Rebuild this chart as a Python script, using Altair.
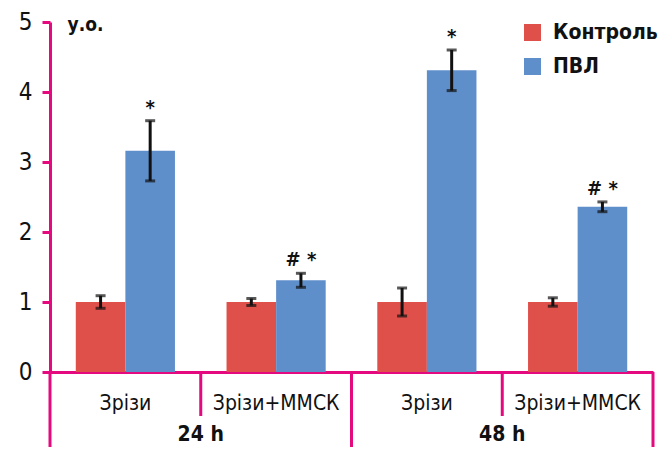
import altair as alt
import pandas as pd

groups = ["24 h", "24 h", "48 h", "48 h"]
treatments = ["Зрізи", "Зрізи+ММСК", "Зрізи", "Зрізи+ММСК"]
series = ["Контроль", "ПВЛ"]
control_mean = [1.0, 1.0, 1.0, 1.0]
control_err = [0.09, 0.05, 0.2, 0.06]
pvl_mean = [3.16, 1.31, 4.31, 2.36]
pvl_err = [0.43, 0.10, 0.29, 0.07]
pvl_marks = ["*", "# *", "*", "# *"]
colors = ["#E0504A", "#5F8FCB"]
y_ticks = [0, 1, 2, 3, 4, 5]

PINK = "#E5097F"
FONT = "Liberation Sans Narrow, DejaVu Sans Condensed, Roboto, sans-serif"

keys = [f"{g}|{t}" for g, t in zip(groups, treatments)]

rows = []
for i, k in enumerate(keys):
    rows.append(dict(key=k, series=series[0], mean=control_mean[i],
                     lo=control_mean[i] - control_err[i], hi=control_mean[i] + control_err[i], note=""))
    rows.append(dict(key=k, series=series[1], mean=pvl_mean[i],
                     lo=pvl_mean[i] - pvl_err[i], hi=pvl_mean[i] + pvl_err[i], note=pvl_marks[i]))
df = pd.DataFrame(rows)

xscale = alt.Scale(domain=keys, paddingInner=0, paddingOuter=0)
oscale = alt.Scale(domain=series, paddingInner=0, paddingOuter=0.52)
yscale = alt.Scale(domain=[0, 5], nice=False)

base = alt.Chart(df)

bars = base.mark_bar().encode(
    x=alt.X("key:N", scale=xscale, title=None,
            axis=alt.Axis(domainColor=PINK, domainWidth=3, ticks=False, labelAngle=0,
                          labelExpr="split(datum.label, '|')[1]", labelFont=FONT,
                          labelFontSize=21, labelColor="#111", labelPadding=20)),
    xOffset=alt.XOffset("series:N", scale=oscale),
    y=alt.Y("mean:Q", scale=yscale,
            axis=alt.Axis(values=y_ticks, format="d", grid=False, domainColor=PINK, domainWidth=3,
                          tickColor=PINK, tickWidth=3, tickSize=8, labelFont=FONT,
                          labelFontSize=24, labelColor="#111", labelPadding=10,
                          title="у.о.", titleAngle=0, titleAlign="left", titleBaseline="middle",
                          titleX=17, titleY=2, titleFont=FONT, titleFontSize=19,
                          titleFontWeight="bold", titleColor="#111")),
    color=alt.Color("series:N", scale=alt.Scale(domain=series, range=colors),
                    legend=alt.Legend(orient="none", legendX=472, legendY=0, title=None,
                                      symbolType="square", symbolSize=289, symbolStrokeWidth=0,
                                      labelFont=FONT, labelFontSize=21, labelFontWeight="bold",
                                      labelColor="#111", rowPadding=12, labelOffset=10)),
)

err = base.mark_rule(color="#111", strokeWidth=3).encode(
    x=alt.X("key:N", scale=xscale),
    xOffset=alt.XOffset("series:N", scale=oscale),
    y=alt.Y("lo:Q", scale=yscale),
    y2="hi:Q",
)

cap_hi = base.mark_tick(color="#111", thickness=3, size=10).encode(
    x=alt.X("key:N", scale=xscale),
    xOffset=alt.XOffset("series:N", scale=oscale),
    y=alt.Y("hi:Q", scale=yscale),
)
cap_lo = base.mark_tick(color="#111", thickness=3, size=10).encode(
    x=alt.X("key:N", scale=xscale),
    xOffset=alt.XOffset("series:N", scale=oscale),
    y=alt.Y("lo:Q", scale=yscale),
)

notes = base.mark_text(color="#111", font=FONT, fontSize=20, fontWeight="bold",
                       baseline="alphabetic", dy=-7).encode(
    x=alt.X("key:N", scale=xscale),
    xOffset=alt.XOffset("series:N", scale=oscale),
    y=alt.Y("hi:Q", scale=yscale),
    text="note:N",
)

# separators below the axis
long_left = pd.DataFrame({"key": [keys[0], keys[2]]})
long_right = pd.DataFrame({"key": [keys[3]]})
short_left = pd.DataFrame({"key": [keys[1], keys[3]]})

sep1 = alt.Chart(long_left).mark_rule(color=PINK, strokeWidth=3).encode(
    x=alt.X("key:N", scale=xscale, bandPosition=0), y=alt.value(350), y2=alt.value(428))
sep2 = alt.Chart(long_right).mark_rule(color=PINK, strokeWidth=3).encode(
    x=alt.X("key:N", scale=xscale, bandPosition=1), y=alt.value(350), y2=alt.value(428))
sep3 = alt.Chart(short_left).mark_rule(color=PINK, strokeWidth=3).encode(
    x=alt.X("key:N", scale=xscale, bandPosition=0), y=alt.value(350), y2=alt.value(394))

grp = pd.DataFrame({"key": [keys[1], keys[3]], "label": [groups[0], groups[2]]})
grp_text = alt.Chart(grp).mark_text(color="#111", font=FONT, fontSize=21, fontWeight="bold",
                                    baseline="middle").encode(
    x=alt.X("key:N", scale=xscale, bandPosition=0), y=alt.value(413), text="label:N")

chart = alt.layer(bars, err, cap_hi, cap_lo, notes, sep1, sep2, sep3, grp_text).properties(
    width=603, height=350,
    autosize=alt.AutoSizeParams(type="none"),
    padding={"left": 42, "top": 14, "right": 8, "bottom": 75},
).configure_view(stroke=None)

chart.save("out.html", embed_options={"renderer": "svg", "actions": False})
